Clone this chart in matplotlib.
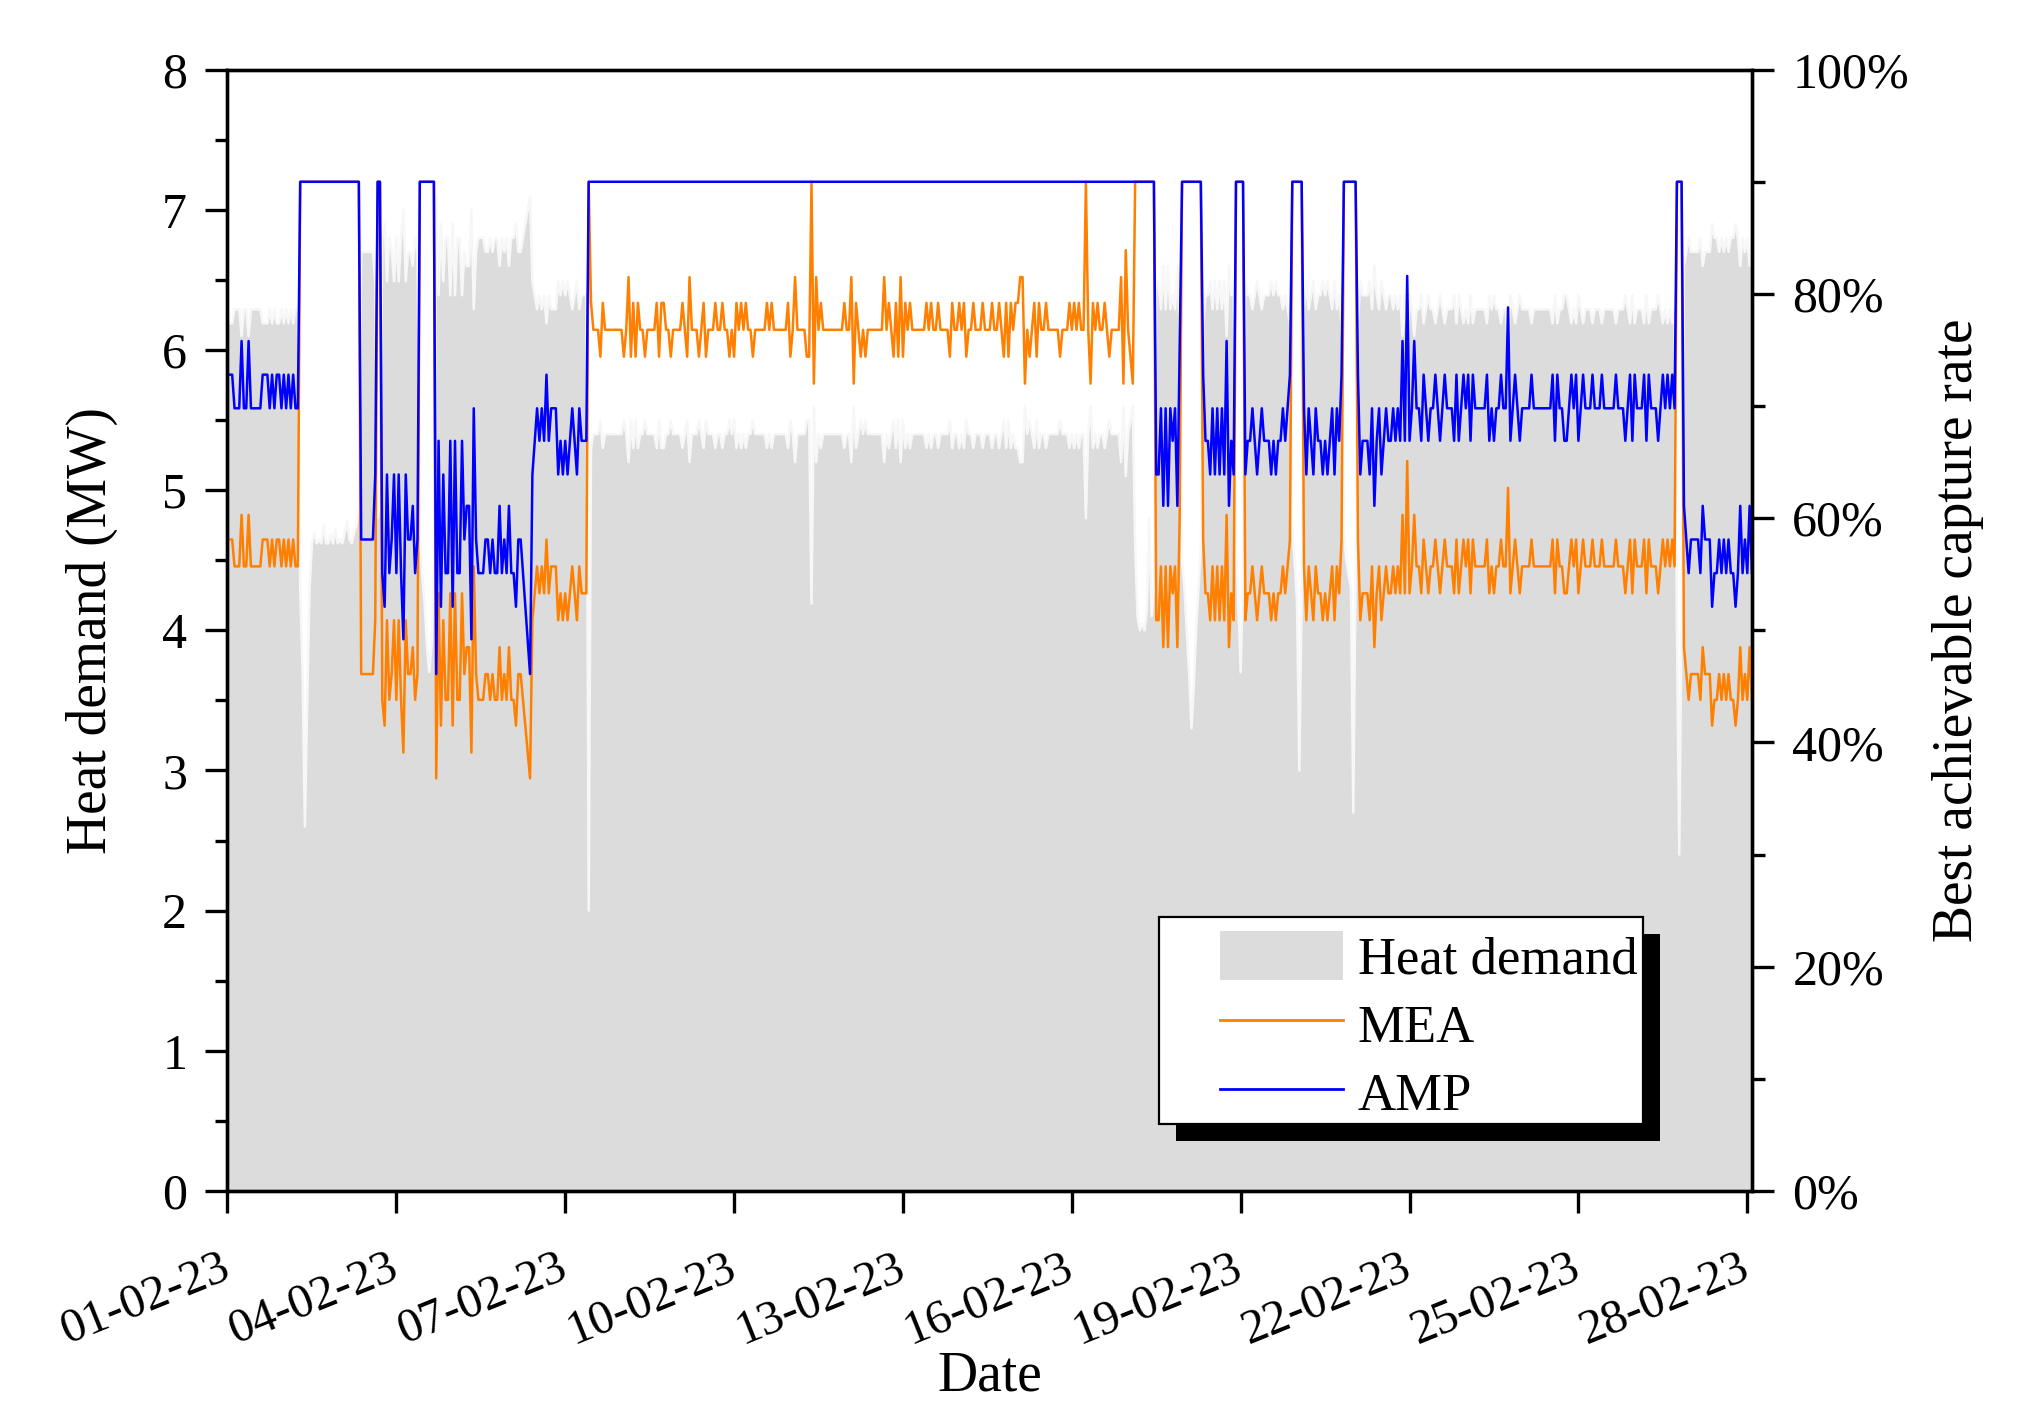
import matplotlib
matplotlib.use('Agg')
import matplotlib.pyplot as plt
import matplotlib.dates as mdates
from matplotlib.patches import Patch, Rectangle
from matplotlib.lines import Line2D
from matplotlib.ticker import MultipleLocator, FuncFormatter
import pandas as pd

plt.rcParams['font.family'] = 'serif'
plt.rcParams['font.serif'] = ['Liberation Serif', 'DejaVu Serif']

# hourly values from 01-02-23 00:00, one row per day
heat_mw = [
    6.19, 6.19, 6.19, 6.29, 6.29, 6.29, 6.1, 6.29, 6.29, 6.1, 6.29, 6.29, 6.29, 6.29, 6.29, 6.19, 6.19, 6.19, 6.29, 6.19, 6.29, 6.19, 6.19, 6.29,
    6.19, 6.29, 6.19, 6.29, 6.19, 6.29, 6.29, 4.3, 3.7, 2.6, 3.5, 4.3, 4.62, 4.7, 4.62, 4.65, 4.62, 4.75, 4.62, 4.62, 4.68, 4.62, 4.72, 4.62,
    4.65, 4.62, 4.7, 4.78, 4.65, 4.62, 4.7, 4.75, 4.88, 6.7, 6.7, 6.7, 6.7, 6.7, 6.7, 6.49, 4.8, 4.9, 6.8, 6.9, 6.49, 6.8, 6.7, 6.49,
    6.8, 6.49, 6.8, 7.0, 6.49, 6.7, 6.7, 6.6, 6.8, 6.7, 4.7, 4.4, 4.2, 3.9, 3.7, 3.9, 4.5, 7.09, 6.39, 6.9, 6.49, 6.8, 6.8, 6.39,
    6.9, 6.39, 6.8, 6.8, 6.39, 6.7, 6.6, 6.6, 7.0, 6.29, 6.7, 6.8, 6.8, 6.8, 6.7, 6.7, 6.8, 6.7, 6.8, 6.8, 6.6, 6.8, 6.7, 6.8,
    6.6, 6.8, 6.8, 6.9, 6.7, 6.7, 6.8, 6.9, 7.0, 7.09, 6.49, 6.39, 6.29, 6.39, 6.29, 6.39, 6.19, 6.39, 6.29, 6.29, 6.29, 6.49, 6.39, 6.49,
    6.39, 6.49, 6.39, 6.29, 6.39, 6.49, 6.29, 6.39, 6.39, 6.39, 2.0, 5.3, 5.4, 5.4, 5.4, 5.5, 5.3, 5.4, 5.4, 5.4, 5.4, 5.4, 5.4, 5.4,
    5.4, 5.5, 5.4, 5.2, 5.5, 5.3, 5.5, 5.3, 5.4, 5.4, 5.5, 5.4, 5.4, 5.4, 5.4, 5.3, 5.5, 5.3, 5.3, 5.4, 5.4, 5.5, 5.4, 5.4,
    5.4, 5.4, 5.3, 5.4, 5.5, 5.2, 5.4, 5.4, 5.4, 5.5, 5.4, 5.3, 5.5, 5.4, 5.4, 5.4, 5.3, 5.4, 5.4, 5.3, 5.4, 5.4, 5.5, 5.4,
    5.5, 5.3, 5.4, 5.3, 5.4, 5.3, 5.4, 5.4, 5.5, 5.4, 5.4, 5.4, 5.4, 5.4, 5.3, 5.4, 5.3, 5.4, 5.4, 5.4, 5.4, 5.4, 5.4, 5.3,
    5.5, 5.4, 5.2, 5.4, 5.4, 5.4, 5.4, 5.5, 5.5, 4.19, 5.6, 5.2, 5.4, 5.3, 5.4, 5.4, 5.4, 5.4, 5.4, 5.4, 5.4, 5.4, 5.4, 5.3,
    5.4, 5.4, 5.2, 5.6, 5.3, 5.4, 5.5, 5.4, 5.5, 5.4, 5.4, 5.4, 5.4, 5.4, 5.4, 5.4, 5.2, 5.4, 5.3, 5.4, 5.5, 5.3, 5.5, 5.2,
    5.5, 5.3, 5.4, 5.3, 5.4, 5.4, 5.4, 5.4, 5.4, 5.4, 5.3, 5.4, 5.3, 5.4, 5.4, 5.3, 5.4, 5.4, 5.4, 5.4, 5.5, 5.3, 5.4, 5.4,
    5.3, 5.4, 5.3, 5.5, 5.4, 5.4, 5.3, 5.4, 5.4, 5.4, 5.3, 5.4, 5.4, 5.4, 5.3, 5.4, 5.4, 5.3, 5.4, 5.5, 5.3, 5.5, 5.3, 5.4,
    5.3, 5.3, 5.2, 5.2, 5.6, 5.4, 5.5, 5.4, 5.3, 5.5, 5.3, 5.4, 5.4, 5.3, 5.4, 5.4, 5.4, 5.4, 5.4, 5.5, 5.4, 5.4, 5.4, 5.3,
    5.4, 5.3, 5.4, 5.3, 5.4, 5.4, 4.8, 5.4, 5.6, 5.3, 5.4, 5.3, 5.4, 5.4, 5.3, 5.4, 5.5, 5.4, 5.4, 5.4, 5.4, 5.2, 5.6, 5.1,
    5.4, 5.5, 5.6, 4.6, 4.1, 4.0, 4.05, 4.0, 4.15, 4.8, 4.1, 4.3, 6.49, 6.49, 6.29, 6.6, 6.29, 6.6, 6.29, 6.39, 6.29, 6.6, 6.1, 4.5,
    4.3, 4.0, 3.7, 3.3, 3.6, 4.0, 4.3, 4.6, 6.19, 6.39, 6.39, 6.49, 6.29, 6.49, 6.29, 6.49, 6.29, 6.49, 6.1, 6.6, 6.39, 6.49, 4.6, 4.2,
    3.7, 4.4, 6.49, 6.39, 6.39, 6.29, 6.39, 6.49, 6.39, 6.29, 6.39, 6.39, 6.39, 6.49, 6.39, 6.49, 6.39, 6.39, 6.29, 6.39, 6.29, 6.19, 4.7, 4.5,
    4.2, 3.0, 4.2, 6.29, 6.49, 6.29, 6.39, 6.49, 6.29, 6.39, 6.39, 6.49, 6.39, 6.49, 6.39, 6.29, 6.49, 6.29, 6.39, 6.19, 4.7, 4.5, 4.4, 4.3,
    2.7, 4.4, 6.19, 6.49, 6.39, 6.39, 6.39, 6.49, 6.29, 6.6, 6.39, 6.29, 6.49, 6.39, 6.29, 6.39, 6.39, 6.29, 6.39, 6.29, 6.39, 6.1, 6.39, 5.9,
    6.39, 6.29, 6.1, 6.29, 6.29, 6.39, 6.19, 6.29, 6.39, 6.29, 6.29, 6.19, 6.29, 6.39, 6.29, 6.19, 6.29, 6.29, 6.29, 6.39, 6.19, 6.39, 6.29, 6.19,
    6.29, 6.19, 6.39, 6.19, 6.29, 6.29, 6.29, 6.29, 6.29, 6.19, 6.39, 6.29, 6.39, 6.29, 6.29, 6.19, 6.29, 6.29, 6.0, 6.39, 6.29, 6.19, 6.29, 6.39,
    6.29, 6.29, 6.29, 6.29, 6.19, 6.29, 6.29, 6.29, 6.29, 6.29, 6.29, 6.29, 6.29, 6.19, 6.39, 6.19, 6.29, 6.29, 6.39, 6.39, 6.29, 6.19, 6.29, 6.19,
    6.39, 6.29, 6.19, 6.29, 6.29, 6.29, 6.19, 6.29, 6.29, 6.29, 6.19, 6.29, 6.29, 6.29, 6.29, 6.29, 6.19, 6.29, 6.29, 6.29, 6.39, 6.29, 6.19, 6.39,
    6.19, 6.29, 6.29, 6.29, 6.19, 6.39, 6.19, 6.29, 6.29, 6.29, 6.39, 6.29, 6.19, 6.29, 6.19, 6.29, 6.19, 6.29, 4.0, 2.4, 4.2, 6.6, 6.7, 6.8,
    6.7, 6.7, 6.7, 6.7, 6.8, 6.6, 6.7, 6.7, 6.7, 6.9, 6.8, 6.8, 6.7, 6.8, 6.7, 6.8, 6.7, 6.8, 6.8, 6.9, 6.8, 6.6, 6.8, 6.7,
    6.8, 6.6, 6.8,
]

mea_pct = [
    58.1, 58.1, 58.1, 55.7, 55.7, 55.7, 60.3, 55.7, 55.7, 60.3, 55.7, 55.7, 55.7, 55.7, 55.7, 58.1, 58.1, 58.1, 55.7, 58.1, 55.7, 58.1, 58.1, 55.7,
    58.1, 55.7, 58.1, 55.7, 58.1, 55.7, 55.7, 90, 90, 90, 90, 90, 90, 90, 90, 90, 90, 90, 90, 90, 90, 90, 90, 90,
    90, 90, 90, 90, 90, 90, 90, 90, 90, 46.1, 46.1, 46.1, 46.1, 46.1, 46.1, 50.9, 90, 90, 43.8, 41.5, 50.9, 43.8, 46.1, 50.9,
    43.8, 50.9, 43.8, 39.1, 50.9, 46.1, 46.1, 48.5, 43.8, 46.1, 90, 90, 90, 90, 90, 90, 90, 36.8, 53.3, 41.5, 50.9, 43.8, 43.8, 53.3,
    41.5, 53.3, 43.8, 43.8, 53.3, 46.1, 48.5, 48.5, 39.1, 55.7, 46.1, 43.8, 43.8, 43.8, 46.1, 46.1, 43.8, 46.1, 43.8, 43.8, 48.5, 43.8, 46.1, 43.8,
    48.5, 43.8, 43.8, 41.5, 46.1, 46.1, 43.8, 41.5, 39.1, 36.8, 50.9, 53.3, 55.7, 53.3, 55.7, 53.3, 58.1, 53.3, 55.7, 55.7, 55.7, 50.9, 53.3, 50.9,
    53.3, 50.9, 53.3, 55.7, 53.3, 50.9, 55.7, 53.3, 53.3, 53.3, 90, 79.2, 76.8, 76.8, 76.8, 74.4, 79.2, 76.8, 76.8, 76.8, 76.8, 76.8, 76.8, 76.8,
    76.8, 74.4, 76.8, 81.5, 74.4, 79.2, 74.4, 79.2, 76.8, 76.8, 74.4, 76.8, 76.8, 76.8, 76.8, 79.2, 74.4, 79.2, 79.2, 76.8, 76.8, 74.4, 76.8, 76.8,
    76.8, 76.8, 79.2, 76.8, 74.4, 81.5, 76.8, 76.8, 76.8, 74.4, 76.8, 79.2, 74.4, 76.8, 76.8, 76.8, 79.2, 76.8, 76.8, 79.2, 76.8, 76.8, 74.4, 76.8,
    74.4, 79.2, 76.8, 79.2, 76.8, 79.2, 76.8, 76.8, 74.4, 76.8, 76.8, 76.8, 76.8, 76.8, 79.2, 76.8, 79.2, 76.8, 76.8, 76.8, 76.8, 76.8, 76.8, 79.2,
    74.4, 76.8, 81.5, 76.8, 76.8, 76.8, 76.8, 74.4, 74.4, 90, 72.0, 81.5, 76.8, 79.2, 76.8, 76.8, 76.8, 76.8, 76.8, 76.8, 76.8, 76.8, 76.8, 79.2,
    76.8, 76.8, 81.5, 72.0, 79.2, 76.8, 74.4, 76.8, 74.4, 76.8, 76.8, 76.8, 76.8, 76.8, 76.8, 76.8, 81.5, 76.8, 79.2, 76.8, 74.4, 79.2, 74.4, 81.5,
    74.4, 79.2, 76.8, 79.2, 76.8, 76.8, 76.8, 76.8, 76.8, 76.8, 79.2, 76.8, 79.2, 76.8, 76.8, 79.2, 76.8, 76.8, 76.8, 76.8, 74.4, 79.2, 76.8, 76.8,
    79.2, 76.8, 79.2, 74.4, 76.8, 76.8, 79.2, 76.8, 76.8, 76.8, 79.2, 76.8, 76.8, 76.8, 79.2, 76.8, 76.8, 79.2, 76.8, 74.4, 79.2, 74.4, 79.2, 76.8,
    79.2, 79.2, 81.5, 81.5, 72.0, 76.8, 74.4, 76.8, 79.2, 74.4, 79.2, 76.8, 76.8, 79.2, 76.8, 76.8, 76.8, 76.8, 76.8, 74.4, 76.8, 76.8, 76.8, 79.2,
    76.8, 79.2, 76.8, 79.2, 76.8, 76.8, 90, 76.8, 72.0, 79.2, 76.8, 79.2, 76.8, 76.8, 79.2, 76.8, 74.4, 76.8, 76.8, 76.8, 76.8, 81.5, 72.0, 83.9,
    76.8, 74.4, 72.0, 90, 90, 90, 90, 90, 90, 90, 90, 90, 50.9, 50.9, 55.7, 48.5, 55.7, 48.5, 55.7, 53.3, 55.7, 48.5, 60.3, 90,
    90, 90, 90, 90, 90, 90, 90, 90, 58.1, 53.3, 53.3, 50.9, 55.7, 50.9, 55.7, 50.9, 55.7, 50.9, 60.3, 48.5, 53.3, 50.9, 90, 90,
    90, 90, 50.9, 53.3, 53.3, 55.7, 53.3, 50.9, 53.3, 55.7, 53.3, 53.3, 53.3, 50.9, 53.3, 50.9, 53.3, 53.3, 55.7, 53.3, 55.7, 58.1, 90, 90,
    90, 90, 90, 55.7, 50.9, 55.7, 53.3, 50.9, 55.7, 53.3, 53.3, 50.9, 53.3, 50.9, 53.3, 55.7, 50.9, 55.7, 53.3, 58.1, 90, 90, 90, 90,
    90, 90, 58.1, 50.9, 53.3, 53.3, 53.3, 50.9, 55.7, 48.5, 53.3, 55.7, 50.9, 53.3, 55.7, 53.3, 53.3, 55.7, 53.3, 55.7, 53.3, 60.3, 53.3, 65.1,
    53.3, 55.7, 60.3, 55.7, 55.7, 53.3, 58.1, 55.7, 53.3, 55.7, 55.7, 58.1, 55.7, 53.3, 55.7, 58.1, 55.7, 55.7, 55.7, 53.3, 58.1, 53.3, 55.7, 58.1,
    55.7, 58.1, 53.3, 58.1, 55.7, 55.7, 55.7, 55.7, 55.7, 58.1, 53.3, 55.7, 53.3, 55.7, 55.7, 58.1, 55.7, 55.7, 62.7, 53.3, 55.7, 58.1, 55.7, 53.3,
    55.7, 55.7, 55.7, 55.7, 58.1, 55.7, 55.7, 55.7, 55.7, 55.7, 55.7, 55.7, 55.7, 58.1, 53.3, 58.1, 55.7, 55.7, 53.3, 53.3, 55.7, 58.1, 55.7, 58.1,
    53.3, 55.7, 58.1, 55.7, 55.7, 55.7, 58.1, 55.7, 55.7, 55.7, 58.1, 55.7, 55.7, 55.7, 55.7, 55.7, 58.1, 55.7, 55.7, 55.7, 53.3, 55.7, 58.1, 53.3,
    58.1, 55.7, 55.7, 55.7, 58.1, 53.3, 58.1, 55.7, 55.7, 55.7, 53.3, 55.7, 58.1, 55.7, 58.1, 55.7, 58.1, 55.7, 90, 90, 90, 48.5, 46.1, 43.8,
    46.1, 46.1, 46.1, 46.1, 43.8, 48.5, 46.1, 46.1, 46.1, 41.5, 43.8, 43.8, 46.1, 43.8, 46.1, 43.8, 46.1, 43.8, 43.8, 41.5, 43.8, 48.5, 43.8, 46.1,
    43.8, 48.5, 43.8,
]

amp_pct = [
    72.8, 72.8, 72.8, 69.8, 69.8, 69.8, 75.8, 69.8, 69.8, 75.8, 69.8, 69.8, 69.8, 69.8, 69.8, 72.8, 72.8, 72.8, 69.8, 72.8, 69.8, 72.8, 72.8, 69.8,
    72.8, 69.8, 72.8, 69.8, 72.8, 69.8, 69.8, 90, 90, 90, 90, 90, 90, 90, 90, 90, 90, 90, 90, 90, 90, 90, 90, 90,
    90, 90, 90, 90, 90, 90, 90, 90, 90, 58.1, 58.1, 58.1, 58.1, 58.1, 58.1, 63.9, 90, 90, 55.1, 52.1, 63.9, 55.1, 58.1, 63.9,
    55.1, 63.9, 55.1, 49.2, 63.9, 58.1, 58.1, 61.1, 55.1, 58.1, 90, 90, 90, 90, 90, 90, 90, 46.1, 66.9, 52.1, 63.9, 55.1, 55.1, 66.9,
    52.1, 66.9, 55.1, 55.1, 66.9, 58.1, 61.1, 61.1, 49.2, 69.8, 58.1, 55.1, 55.1, 55.1, 58.1, 58.1, 55.1, 58.1, 55.1, 55.1, 61.1, 55.1, 58.1, 55.1,
    61.1, 55.1, 55.1, 52.1, 58.1, 58.1, 55.1, 52.1, 49.2, 46.1, 63.9, 66.9, 69.8, 66.9, 69.8, 66.9, 72.8, 66.9, 69.8, 69.8, 69.8, 63.9, 66.9, 63.9,
    66.9, 63.9, 66.9, 69.8, 66.9, 63.9, 69.8, 66.9, 66.9, 66.9, 90, 90, 90, 90, 90, 90, 90, 90, 90, 90, 90, 90, 90, 90,
    90, 90, 90, 90, 90, 90, 90, 90, 90, 90, 90, 90, 90, 90, 90, 90, 90, 90, 90, 90, 90, 90, 90, 90,
    90, 90, 90, 90, 90, 90, 90, 90, 90, 90, 90, 90, 90, 90, 90, 90, 90, 90, 90, 90, 90, 90, 90, 90,
    90, 90, 90, 90, 90, 90, 90, 90, 90, 90, 90, 90, 90, 90, 90, 90, 90, 90, 90, 90, 90, 90, 90, 90,
    90, 90, 90, 90, 90, 90, 90, 90, 90, 90, 90, 90, 90, 90, 90, 90, 90, 90, 90, 90, 90, 90, 90, 90,
    90, 90, 90, 90, 90, 90, 90, 90, 90, 90, 90, 90, 90, 90, 90, 90, 90, 90, 90, 90, 90, 90, 90, 90,
    90, 90, 90, 90, 90, 90, 90, 90, 90, 90, 90, 90, 90, 90, 90, 90, 90, 90, 90, 90, 90, 90, 90, 90,
    90, 90, 90, 90, 90, 90, 90, 90, 90, 90, 90, 90, 90, 90, 90, 90, 90, 90, 90, 90, 90, 90, 90, 90,
    90, 90, 90, 90, 90, 90, 90, 90, 90, 90, 90, 90, 90, 90, 90, 90, 90, 90, 90, 90, 90, 90, 90, 90,
    90, 90, 90, 90, 90, 90, 90, 90, 90, 90, 90, 90, 90, 90, 90, 90, 90, 90, 90, 90, 90, 90, 90, 90,
    90, 90, 90, 90, 90, 90, 90, 90, 90, 90, 90, 90, 63.9, 63.9, 69.8, 61.1, 69.8, 61.1, 69.8, 66.9, 69.8, 61.1, 75.8, 90,
    90, 90, 90, 90, 90, 90, 90, 90, 72.8, 66.9, 66.9, 63.9, 69.8, 63.9, 69.8, 63.9, 69.8, 63.9, 75.8, 61.1, 66.9, 63.9, 90, 90,
    90, 90, 63.9, 66.9, 66.9, 69.8, 66.9, 63.9, 66.9, 69.8, 66.9, 66.9, 66.9, 63.9, 66.9, 63.9, 66.9, 66.9, 69.8, 66.9, 69.8, 72.8, 90, 90,
    90, 90, 90, 69.8, 63.9, 69.8, 66.9, 63.9, 69.8, 66.9, 66.9, 63.9, 66.9, 63.9, 66.9, 69.8, 63.9, 69.8, 66.9, 72.8, 90, 90, 90, 90,
    90, 90, 72.8, 63.9, 66.9, 66.9, 66.9, 63.9, 69.8, 61.1, 66.9, 69.8, 63.9, 66.9, 69.8, 66.9, 66.9, 69.8, 66.9, 69.8, 66.9, 75.8, 66.9, 81.6,
    66.9, 69.8, 75.8, 69.8, 69.8, 66.9, 72.8, 69.8, 66.9, 69.8, 69.8, 72.8, 69.8, 66.9, 69.8, 72.8, 69.8, 69.8, 69.8, 66.9, 72.8, 66.9, 69.8, 72.8,
    69.8, 72.8, 66.9, 72.8, 69.8, 69.8, 69.8, 69.8, 69.8, 72.8, 66.9, 69.8, 66.9, 69.8, 69.8, 72.8, 69.8, 69.8, 78.8, 66.9, 69.8, 72.8, 69.8, 66.9,
    69.8, 69.8, 69.8, 69.8, 72.8, 69.8, 69.8, 69.8, 69.8, 69.8, 69.8, 69.8, 69.8, 72.8, 66.9, 72.8, 69.8, 69.8, 66.9, 66.9, 69.8, 72.8, 69.8, 72.8,
    66.9, 69.8, 72.8, 69.8, 69.8, 69.8, 72.8, 69.8, 69.8, 69.8, 72.8, 69.8, 69.8, 69.8, 69.8, 69.8, 72.8, 69.8, 69.8, 69.8, 66.9, 69.8, 72.8, 66.9,
    72.8, 69.8, 69.8, 69.8, 72.8, 66.9, 72.8, 69.8, 69.8, 69.8, 66.9, 69.8, 72.8, 69.8, 72.8, 69.8, 72.8, 69.8, 90, 90, 90, 61.1, 58.1, 55.1,
    58.1, 58.1, 58.1, 58.1, 55.1, 61.1, 58.1, 58.1, 58.1, 52.1, 55.1, 55.1, 58.1, 55.1, 58.1, 55.1, 58.1, 55.1, 55.1, 52.1, 55.1, 61.1, 55.1, 58.1,
    55.1, 61.1, 55.1,
]

times = pd.date_range('2023-02-01 00:00', periods=len(heat_mw), freq='h')
date_ticks = pd.date_range('2023-02-01', '2023-02-28', freq='3D')

fig = plt.figure(figsize=(10.12, 7.02), dpi=200)
ax = fig.add_axes([0.1124, 0.1517, 0.7532, 0.7987])

# heat demand area with a light outline
ax.fill_between(times, heat_mw, 0, color='#dcdcdc', lw=0)
ax.plot(times, heat_mw, color='#f7f7f7', lw=0.9)
ax.set_xlim(times[0], times[-1])
ax.set_ylim(0, 8)

ax2 = ax.twinx()
ax2.plot(times, mea_pct, color='#ff8000', lw=0.9)
ax2.plot(times, amp_pct, color='#0000ff', lw=0.9)
ax2.set_ylim(0, 100)

ax.set_xticks(date_ticks)
ax.xaxis.set_major_formatter(mdates.DateFormatter('%d-%m-%y'))
ax.yaxis.set_major_locator(MultipleLocator(1))
ax.yaxis.set_minor_locator(MultipleLocator(0.5))
ax2.yaxis.set_major_locator(MultipleLocator(20))
ax2.yaxis.set_minor_locator(MultipleLocator(10))
ax2.yaxis.set_major_formatter(FuncFormatter(lambda v, p: '%d%%' % v))

for a in (ax, ax2):
    for s in a.spines.values():
        s.set_linewidth(1.2)
    a.tick_params(which='major', direction='out', length=8, width=1.2, labelsize=18, pad=6.5)
    a.tick_params(which='minor', direction='out', length=4.5, width=1.2)
ax.tick_params(axis='x', labelsize=17.5, pad=19)

plt.setp(ax.get_xticklabels(), rotation=22, ha='right', va='center', rotation_mode='anchor')

ax.set_ylabel('Heat demand (MW)', fontsize=20)
ax.yaxis.set_label_coords(-0.072, 0.5)
ax2.set_ylabel('Best achievable capture rate', fontsize=20)
ax2.yaxis.set_label_coords(1.118, 0.5)
ax.set_xlabel('Date', fontsize=20)
ax.xaxis.set_label_coords(0.5, -0.142)

# legend box with black drop shadow (drawn by hand)
box_x, box_y, box_w, box_h = 0.611, 0.0598, 0.3175, 0.1846
ax2.add_patch(Rectangle((box_x + 0.0112, box_y - 0.0155), box_w, box_h, transform=ax2.transAxes,
                        facecolor='black', edgecolor='none', zorder=4.8))
ax2.add_patch(Rectangle((box_x, box_y), box_w, box_h, transform=ax2.transAxes,
                        facecolor='white', edgecolor='black', lw=0.8, zorder=4.9))

handles = [Patch(facecolor='#dcdcdc', edgecolor='none'),
           Line2D([], [], color='#ff8000', lw=1.0),
           Line2D([], [], color='#0000ff', lw=1.0)]
leg = ax2.legend(handles, ['Heat demand', 'MEA', 'AMP'], loc='center left',
                 bbox_to_anchor=(0.651, 0.1472), borderaxespad=0, borderpad=0,
                 fontsize=19, frameon=False, handlelength=2.33, handleheight=1.05,
                 handletextpad=0.28, labelspacing=0.285)
leg.set_zorder(5)

fig.savefig('out.png', dpi=200)
